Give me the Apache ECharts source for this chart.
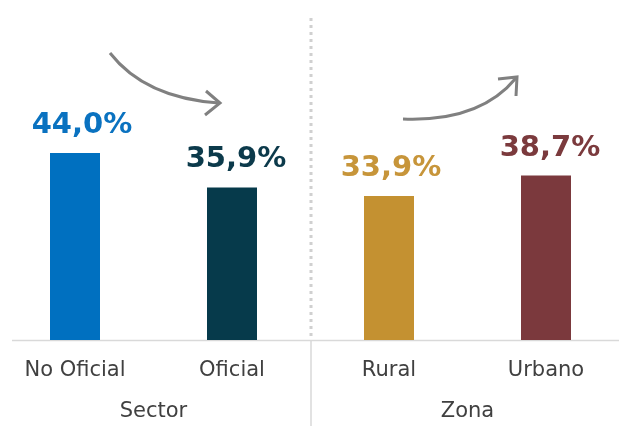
<!DOCTYPE html>
<html><head><meta charset="utf-8">
<script src="https://cdn.jsdelivr.net/npm/echarts@6/dist/echarts.min.js"></script>
<style>html,body{margin:0;padding:0;background:#fff}#c{width:619px;height:428px}</style>
</head><body><div id="c"></div>
<script>
const categories = ['No Oficial', 'Oficial', 'Rural', 'Urbano'];
const values = [44.0, 35.9, 33.9, 38.7];
const groups = ['Sector', 'Zona'];
const barColors = ['#0070C0', '#063A4B', '#C49131', '#7B393D'];
const labelColors = ['#0A72C0', '#0C3A4B', '#C7953A', '#7B3A3D'];
const labelShift = [7, 4, 2, 4];

const chart = echarts.init(document.getElementById('c'));
const fmt = v => v.toFixed(1).replace('.', ',') + '%';
chart.setOption({
  animation: false,
  grid: { left: -3.5, width: 628, top: 0, bottom: 88, containLabel: false, outerBoundsMode: 'none' },
  xAxis: [{
    type: 'category', data: categories,
    axisLine: { show: false }, axisTick: { show: false },
    axisLabel: { color: '#404040', fontFamily: 'DejaVu Sans', fontSize: 21, margin: 20 }
  }, {
    type: 'category', data: groups, position: 'bottom', offset: 61,
    axisLine: { show: false }, axisTick: { show: false },
    axisLabel: { color: '#404040', fontFamily: 'DejaVu Sans', fontSize: 21, margin: 0 }
  }],
  yAxis: { type: 'value', min: 0, max: 80, show: false },
  series: [{
    type: 'bar', barWidth: 50,
    data: values.map((v, i) => ({ value: v, itemStyle: { color: barColors[i] },
      label: { color: labelColors[i], offset: [labelShift[i], 0] } })),
    label: { show: true, position: 'top', distance: 13, formatter: p => fmt(p.value),
      fontFamily: 'DejaVu Sans', fontWeight: 'bold', fontSize: 29,
      textBorderColor: '#fff', textBorderWidth: 1 }
  }],
  graphic: [
    { type: 'line', shape: { x1: 12, y1: 340.5, x2: 619, y2: 340.5 }, style: { stroke: '#d9d9d9', lineWidth: 1.5 } },
    { type: 'line', shape: { x1: 311, y1: 340, x2: 311, y2: 426 }, style: { stroke: '#d9d9d9', lineWidth: 1.5 } },
    { type: 'line', shape: { x1: 311, y1: 18, x2: 311, y2: 340 }, style: { stroke: '#d0d0d0', lineWidth: 3, lineDash: [3, 4] } },
    { type: 'bezierCurve', shape: { x1: 110, y1: 53, cpx1: 145, cpy1: 98, x2: 219, y2: 103 }, style: { stroke: '#808080', lineWidth: 3, fill: null } },
    { type: 'polyline', shape: { points: [[206, 91], [220, 103], [205, 115]] }, style: { stroke: '#808080', lineWidth: 3, fill: null } },
    { type: 'bezierCurve', shape: { x1: 403, y1: 119, cpx1: 480, cpy1: 122, x2: 516, y2: 78 }, style: { stroke: '#808080', lineWidth: 3, fill: null } },
    { type: 'polyline', shape: { points: [[498, 79], [517, 77], [516, 96]] }, style: { stroke: '#808080', lineWidth: 3, fill: null } }
  ]
});
</script></body></html>
